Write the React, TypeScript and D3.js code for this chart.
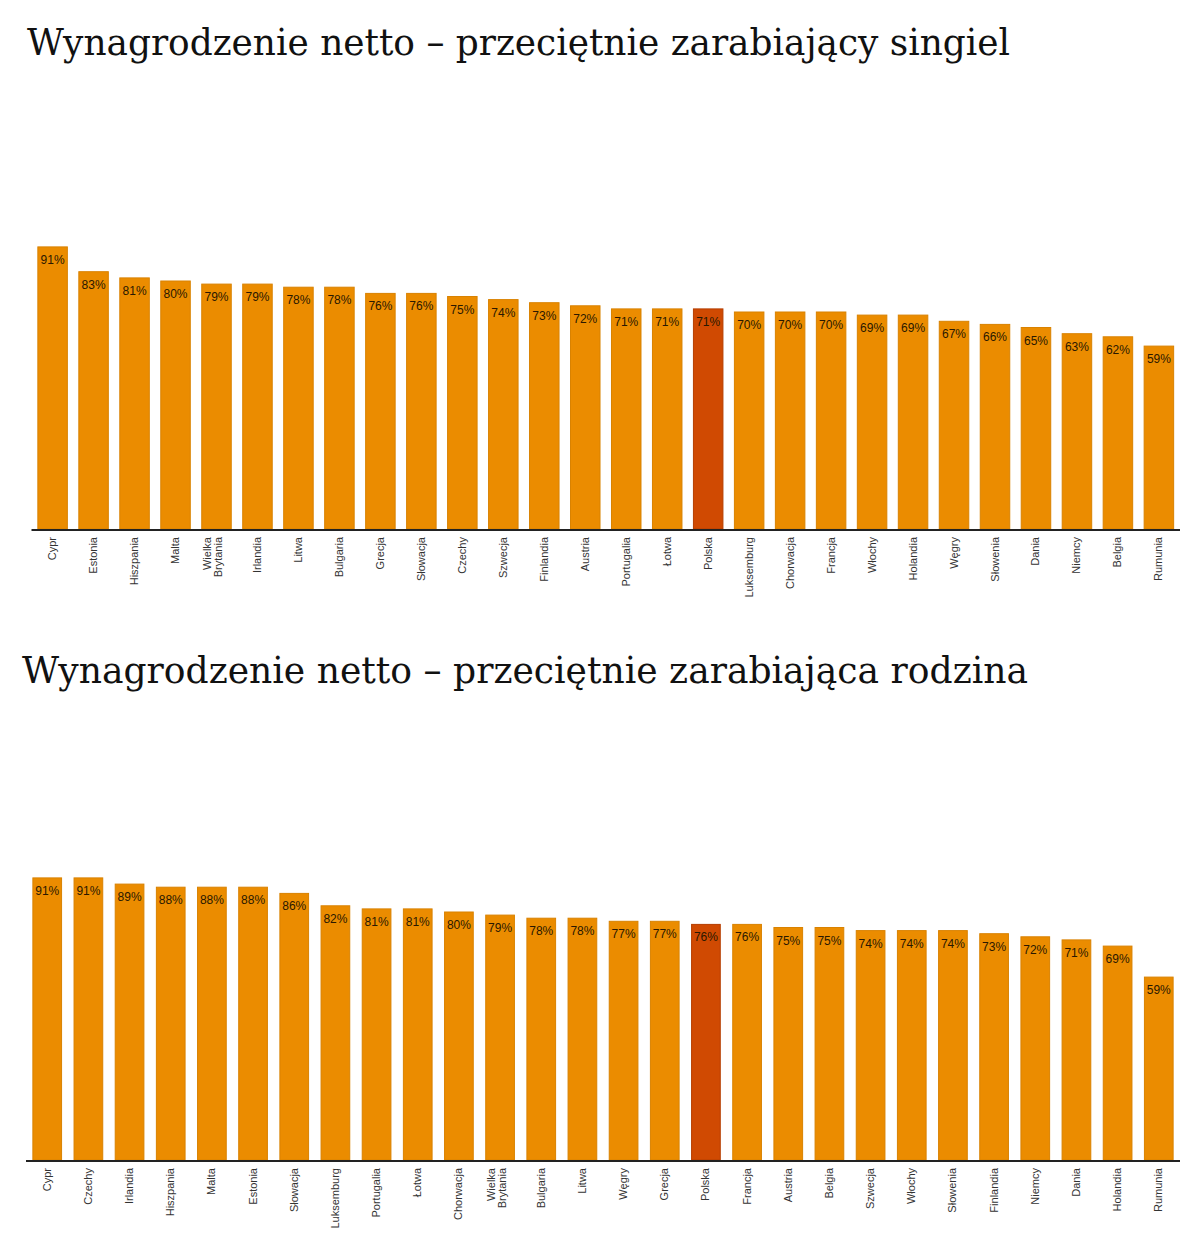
import React from "react";
import * as d3 from "d3";

const singleCountries = ["Cypr","Estonia","Hiszpania","Malta","Wielka Brytania","Irlandia","Litwa","Bulgaria","Grecja","Słowacja","Czechy","Szwecja","Finlandia","Austria","Portugalia","Łotwa","Polska","Luksemburg","Chorwacja","Francja","Włochy","Holandia","Węgry","Słowenia","Dania","Niemcy","Belgia","Rumunia"];
const singleValues = [91,83,81,80,79,79,78,78,76,76,75,74,73,72,71,71,71,70,70,70,69,69,67,66,65,63,62,59];

const familyCountries = ["Cypr","Czechy","Irlandia","Hiszpania","Malta","Estonia","Słowacja","Luksemburg","Portugalia","Łotwa","Chorwacja","Wielka Brytania","Bulgaria","Litwa","Węgry","Grecja","Polska","Francja","Austria","Belgia","Szwecja","Włochy","Słowenia","Finlandia","Niemcy","Dania","Holandia","Rumunia"];
const familyValues = [91,91,89,88,88,88,86,82,81,81,80,79,78,78,77,77,76,76,75,75,74,74,74,73,72,71,69,59];

const titles = [
  "Wynagrodzenie netto – przeciętnie zarabiający singiel",
  "Wynagrodzenie netto – przeciętnie zarabiająca rodzina",
];

const highlight = "Polska";

type ChartProps = {
  countries: string[];
  values: number[];
  title: string;
  titleX: number;
  titleY: number;
  titleLen: number;
  baseline: number;
  x0: number;
  x1: number;
  padInner: number;
  padOuter: number;
};

function BarChart(p: ChartProps) {
  const x = d3.scaleBand<string>().domain(p.countries).range([p.x0, p.x1]).paddingInner(p.padInner).paddingOuter(p.padOuter);
  const y = d3.scaleLinear().domain([0, 100]).range([p.baseline, p.baseline - 310]);
  return (
    <g>
      <text x={p.titleX} y={p.titleY} fontFamily="'DejaVu Serif', serif" fontSize={37} fill="#111" textLength={p.titleLen} lengthAdjust="spacingAndGlyphs">{p.title}</text>
      {p.countries.map((c, i) => {
        const v = p.values[i];
        const bx = x(c)!;
        const top = y(v);
        const isH = c === highlight;
        return (
          <g key={c}>
            <rect x={bx} y={top} width={x.bandwidth()} height={p.baseline - top} fill={isH ? "#D04A02" : "#EB8C00"} stroke={isH ? "#B53E00" : "#D98200"} strokeWidth={1} />
            <text x={bx + x.bandwidth() / 2} y={top + 17} textAnchor="middle" fontFamily="'Liberation Sans', Arial, sans-serif" fontSize={12} fill="#2a1800">{Math.round(v)}%</text>
          </g>
        );
      })}
      <line x1={p.x0} x2={p.x1} y1={p.baseline + 1} y2={p.baseline + 1} stroke="#222" strokeWidth={2} />
      {p.countries.map((c) => {
        const cx = x(c)! + x.bandwidth() / 2;
        const parts = c.split(" ");
        const ty = p.baseline + 8;
        const shift = parts.length > 1 ? -5 : 3.5;
        return (
          <text key={"l" + c} transform={`translate(${cx + shift},${ty}) rotate(-90)`} textAnchor="end" fontFamily="'Liberation Sans', Arial, sans-serif" fontSize={11} fill="#333">
            {parts.map((t, j) => (
              <tspan key={j} x={0} dy={j === 0 ? 0 : 10.5}>{t}</tspan>
            ))}
          </text>
        );
      })}
    </g>
  );
}

export default function App() {
  return (
    <svg width={1200} height={1251} style={{ position: "absolute", left: 0, top: 0, background: "#fff" }}>
      <rect width={1200} height={1251} fill="#fff" />
      <BarChart countries={singleCountries} values={singleValues} title={titles[0]} titleX={27} titleY={55} titleLen={983} baseline={529} x0={31.5} x1={1180} padInner={0.28} padOuter={0.155} />
      <BarChart countries={familyCountries} values={familyValues} title={titles[1]} titleX={22} titleY={683} titleLen={1006} baseline={1160} x0={26} x1={1180} padInner={0.303} padOuter={0.167} />
    </svg>
  );
}
